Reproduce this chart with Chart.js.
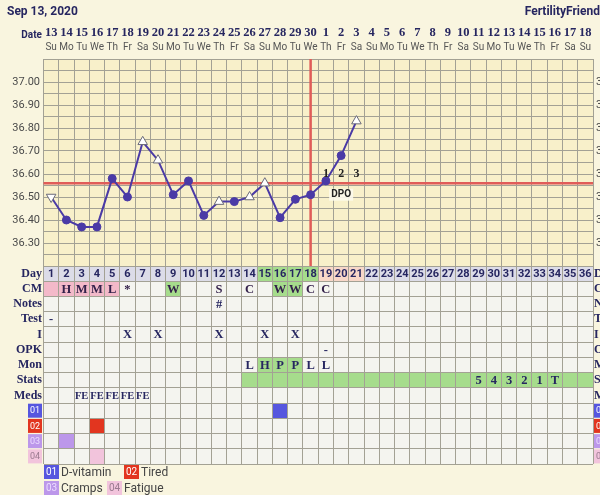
<!DOCTYPE html>
<html>
<head>
<meta charset="utf-8">
<script src="https://cdn.jsdelivr.net/npm/chart.js@4"></script>
<style>
  html, body { margin: 0; padding: 0; background: #f9f5df; }
  canvas { display: block; }
</style>
</head>
<body>
<canvas id="ffChart" width="600" height="495"></canvas>
<script>
// ====== Datos del ciclo ======
const dateLabels = ['13','14','15','16','17','18','19','20','21','22','23','24','25','26','27','28','29','30',
                    '1','2','3','4','5','6','7','8','9','10','11','12','13','14','15','16','17','18'];
const dowLabels = ['Su','Mo','Tu','We','Th','Fr','Sa','Su','Mo','Tu','We','Th','Fr','Sa','Su','Mo','Tu','We',
                   'Th','Fr','Sa','Su','Mo','Tu','We','Th','Fr','Sa','Su','Mo','Tu','We','Th','Fr','Sa','Su'];
const tempDays = [1,2,3,4,5,6,7,8,9,10,11,12,13,14,15,16,17,18,19,20,21];
const temps = [36.50,36.40,36.37,36.37,36.58,36.50,36.74,36.66,36.51,36.57,36.42,36.48,36.48,36.50,36.56,36.41,36.49,36.51,36.57,36.68,36.83];
// o = medida normal, ^ = triángulo abierto, v = triángulo invertido
const tempMarks = ['v','o','o','o','o','o','^','^','o','o','o','^','o','^','^','o','o','o','o','o','^'];
const tempTicks = ['37.00','36.90','36.80','36.70','36.60','36.50','36.40','36.30'];
const coverline = 36.56;
const ovulationDay = 18;
const dpoDays = [19, 20, 21];
const dpoLabels = ['1', '2', '3'];

const rowLabels = ['Day','CM','Notes','Test','I','OPK','Mon','Stats','Meds','01','02','03','04'];
const rightLabels = ['D','C','N','T','I','O','M','S','M','01','02','03','04'];
const dayGreen = [15,16,17,18];
const daySalmon = [19,20,21];
const cmPink = [1,2,3,4,5];
const cmGreen = [9,16,17];
const cmText = [[2,'H'],[3,'M'],[4,'M'],[5,'L'],[6,'*'],[9,'W'],[12,'S'],[14,'C'],[16,'W'],[17,'W'],[18,'C'],[19,'C']];
const notesText = [[12,'#']];
const testText = [[1,'-']];
const intercourseDays = [6,8,12,15,17];
const opkText = [[19,'-']];
const monText = [[14,'L'],[15,'H'],[16,'P'],[17,'P'],[18,'L'],[19,'L']];
const monGreen = [15,16,17];
const statsGreenFrom = 14;
const statsText = [[29,'5'],[30,'4'],[31,'3'],[32,'2'],[33,'1'],[34,'T']];
const medsText = [[3,'FE'],[4,'FE'],[5,'FE'],[6,'FE'],[7,'FE']];
const symptomDays = [[16], [4], [2], [4]];
const symptomNames = ['D-vitamin', 'Tired', 'Cramps', 'Fatigue'];
const symptomColors = ['#5656df', '#e2351f', '#bc97ea', '#f2c4dc'];
const symptomTextColors = ['#ffffff', '#ffffff', '#ecdcff', '#9a7a8f'];

const NAVY = '#262660';
const SERIF = '"Liberation Serif", "DejaVu Serif", serif';
const SANS = 'Roboto, "Liberation Sans", sans-serif';

// bordes de columnas y filas (para las líneas de la cuadrícula)
const colEdges = Array.from({ length: 37 }, (_, i) => i + 0.5);
const rowEdges = Array.from({ length: 14 }, (_, i) => i + 0.5);
const tempEdges = Array.from({ length: 19 }, (_, i) => Math.round((36.2 + i * 0.05) * 100) / 100);

function text(ctx, str, x, y, font, color, align = 'center') {
  ctx.font = font;
  ctx.fillStyle = color;
  ctx.textAlign = align;
  ctx.textBaseline = 'middle';
  ctx.fillText(str, x, y);
}

// ====== Fondo, celdas y líneas rojas ======
const paperPlugin = {
  id: 'paper',
  beforeDraw(chart) {
    const { ctx, chartArea: a, scales } = chart;
    const { x, y, rows } = scales;
    ctx.save();
    ctx.fillStyle = '#f9f5df';
    ctx.fillRect(0, 0, chart.width, chart.height);
    ctx.fillStyle = '#f8f0ca';
    ctx.fillRect(a.left, y.top, a.right - a.left, y.bottom - y.top);
    ctx.fillStyle = '#f4f4ef';
    ctx.fillRect(a.left, rows.top, a.right - a.left, rows.bottom - rows.top);

    const cell = (day, row, color) => {
      const x0 = x.getPixelForValue(day - 0.5), x1 = x.getPixelForValue(day + 0.5);
      const y0 = rows.getPixelForValue(row - 0.5), y1 = rows.getPixelForValue(row + 0.5);
      ctx.fillStyle = color;
      ctx.fillRect(x0, Math.min(y0, y1), x1 - x0, Math.abs(y1 - y0));
    };
    for (let d = 1; d <= 36; d++) {
      let c = '#dcdce8';
      if (dayGreen.includes(d)) c = '#a6dc8c';
      if (daySalmon.includes(d)) c = '#f8d7c8';
      cell(d, 1, c);
    }
    cmPink.forEach(d => cell(d, 2, '#f3b9c9'));
    cmGreen.forEach(d => cell(d, 2, '#a6dc8c'));
    monGreen.forEach(d => cell(d, 7, '#a6dc8c'));
    for (let d = statsGreenFrom; d <= 36; d++) cell(d, 8, '#a6dc8c');
    symptomDays.forEach((list, i) => list.forEach(d => cell(d, 10 + i, symptomColors[i])));
    ctx.restore();
  },
  beforeDatasetsDraw(chart) {
    const { ctx, chartArea: a, scales: { x, y } } = chart;
    ctx.save();
    ctx.strokeStyle = '#e05c58';
    ctx.lineWidth = 2.5;
    const cy = y.getPixelForValue(coverline);
    ctx.beginPath();
    ctx.moveTo(a.left, cy);
    ctx.lineTo(a.right, cy);
    const ox = x.getPixelForValue(ovulationDay);
    ctx.moveTo(ox, y.top);
    ctx.lineTo(ox, y.bottom);
    ctx.stroke();
    ctx.restore();
  },
  afterDraw(chart) {
    const { ctx, chartArea: a, scales: { x, y, rows } } = chart;
    ctx.save();
    // cabecera
    text(ctx, 'Sep 13, 2020', 7, 12, `bold 12px ${SANS}`, NAVY, 'left');
    text(ctx, 'FertilityFriend', 600, 12, `bold 12px ${SANS}`, NAVY, 'right');
    text(ctx, 'Date', 42, 35, `bold 10px ${SANS}`, NAVY, 'right');
    dateLabels.forEach((lbl, i) => {
      const px = x.getPixelForValue(i + 1);
      text(ctx, lbl, px, 33, `bold 12.5px ${SERIF}`, NAVY);
      text(ctx, dowLabels[i], px, 47, `10px ${SANS}`, '#555555');
    });
    // escala de temperatura
    tempTicks.forEach(t => {
      const py = y.getPixelForValue(parseFloat(t));
      text(ctx, t, 40, py, `11px ${SANS}`, '#4a4a4a', 'right');
      text(ctx, t, 596, py, `11px ${SANS}`, '#4a4a4a', 'left');
    });
    // DPO
    dpoDays.forEach((d, i) => {
      text(ctx, dpoLabels[i], x.getPixelForValue(d), y.getPixelForValue(36.60), `bold 12px ${SERIF}`, '#222222');
    });
    const dpx = x.getPixelForValue(20), dpy = y.getPixelForValue(36.51);
    ctx.fillStyle = 'rgba(252,250,236,0.9)';
    ctx.fillRect(dpx - 12, dpy - 6, 24, 12);
    text(ctx, 'DPO', dpx, dpy, `bold 10px ${SANS}`, '#222222');

    // etiquetas de filas
    const rowY = r => rows.getPixelForValue(r);
    rowLabels.forEach((lbl, i) => {
      const r = i + 1;
      if (i < 9) {
        text(ctx, lbl, 42, rowY(r), `bold 12px ${SERIF}`, NAVY, 'right');
        text(ctx, rightLabels[i], 594, rowY(r), `bold 12px ${SERIF}`, NAVY, 'left');
      } else {
        const k = i - 9;
        ctx.fillStyle = symptomColors[k];
        ctx.fillRect(28, rowY(r) - 7, 14, 14);
        text(ctx, lbl, 35, rowY(r) + 0.5, `9px ${SANS}`, symptomTextColors[k]);
        ctx.fillStyle = symptomColors[k];
        ctx.fillRect(594, rowY(r) - 7, 14, 14);
        text(ctx, lbl, 601, rowY(r) + 0.5, `9px ${SANS}`, symptomTextColors[k]);
      }
    });
    // números de día
    for (let d = 1; d <= 36; d++) {
      text(ctx, String(d), x.getPixelForValue(d), rowY(1) + 0.5, `bold 11px ${SANS}`, NAVY);
    }
    const cellFont = `bold 12.5px ${SERIF}`;
    const put = (list, r, color = NAVY, font = cellFont) =>
      list.forEach(([d, s]) => text(ctx, s, x.getPixelForValue(d), rowY(r) + 0.5, font, color));
    put(cmText, 2, '#33204a');
    put(notesText, 3);
    put(testText, 4);
    put(intercourseDays.map(d => [d, 'X']), 5);
    put(opkText, 6);
    put(monText, 7);
    put(statsText, 8);
    put(medsText, 9, NAVY, `bold 10.5px ${SERIF}`);

    // leyenda
    const legend = [[44, 472, 0], [124, 472, 1], [44, 488, 2], [107, 488, 3]];
    legend.forEach(([lx, ly, k]) => {
      ctx.fillStyle = symptomColors[k];
      ctx.fillRect(lx, ly - 7, 15, 14);
      text(ctx, '0' + (k + 1), lx + 7.5, ly + 0.5, `10px ${SANS}`, symptomTextColors[k]);
      text(ctx, symptomNames[k], lx + 17, ly + 0.5, `12px ${SANS}`, '#444444', 'left');
    });
    ctx.restore();
  }
};

const gridOpts = { color: '#a3a194', lineWidth: 1, drawTicks: false };

new Chart(document.getElementById('ffChart'), {
  type: 'line',
  data: {
    datasets: [{
      xAxisID: 'x',
      yAxisID: 'y',
      data: tempDays.map((d, i) => ({ x: d, y: temps[i] })),
      borderColor: '#4a3aa6',
      borderWidth: 2,
      tension: 0,
      pointStyle: tempMarks.map(m => (m === 'o' ? 'circle' : 'triangle')),
      pointRadius: tempMarks.map(m => (m === 'o' ? 4 : 5.5)),
      pointRotation: tempMarks.map(m => (m === 'v' ? 180 : 0)),
      pointBackgroundColor: tempMarks.map(m => (m === 'o' ? '#4a3aa6' : '#ffffff')),
      pointBorderColor: tempMarks.map(m => (m === 'o' ? '#4a3aa6' : '#6a6a78')),
      pointBorderWidth: 1
    }]
  },
  options: {
    responsive: false,
    animation: false,
    devicePixelRatio: 1,
    layout: { padding: { left: 43.5, right: 7, top: 59, bottom: 31 } },
    plugins: { legend: { display: false }, tooltip: { enabled: false } },
    scales: {
      x: {
        type: 'linear', min: 0.5, max: 36.5,
        afterBuildTicks: s => { s.ticks = colEdges.map(v => ({ value: v })); },
        ticks: { display: false },
        grid: gridOpts,
        border: { display: false }
      },
      // la tabla se define antes para que quede debajo en la pila izquierda
      rows: {
        type: 'linear', position: 'left', stack: 'ff', stackWeight: 198,
        min: 0.5, max: 13.5, reverse: true,
        afterBuildTicks: s => { s.ticks = rowEdges.map(v => ({ value: v })); },
        ticks: { display: false },
        grid: gridOpts,
        border: { display: false }
      },
      y: {
        type: 'linear', position: 'left', stack: 'ff', stackWeight: 207,
        min: 36.2, max: 37.1,
        afterBuildTicks: s => { s.ticks = tempEdges.map(v => ({ value: v })); },
        ticks: { display: false },
        grid: gridOpts,
        border: { display: false }
      }
    }
  },
  plugins: [paperPlugin]
});
</script>
</body>
</html>
